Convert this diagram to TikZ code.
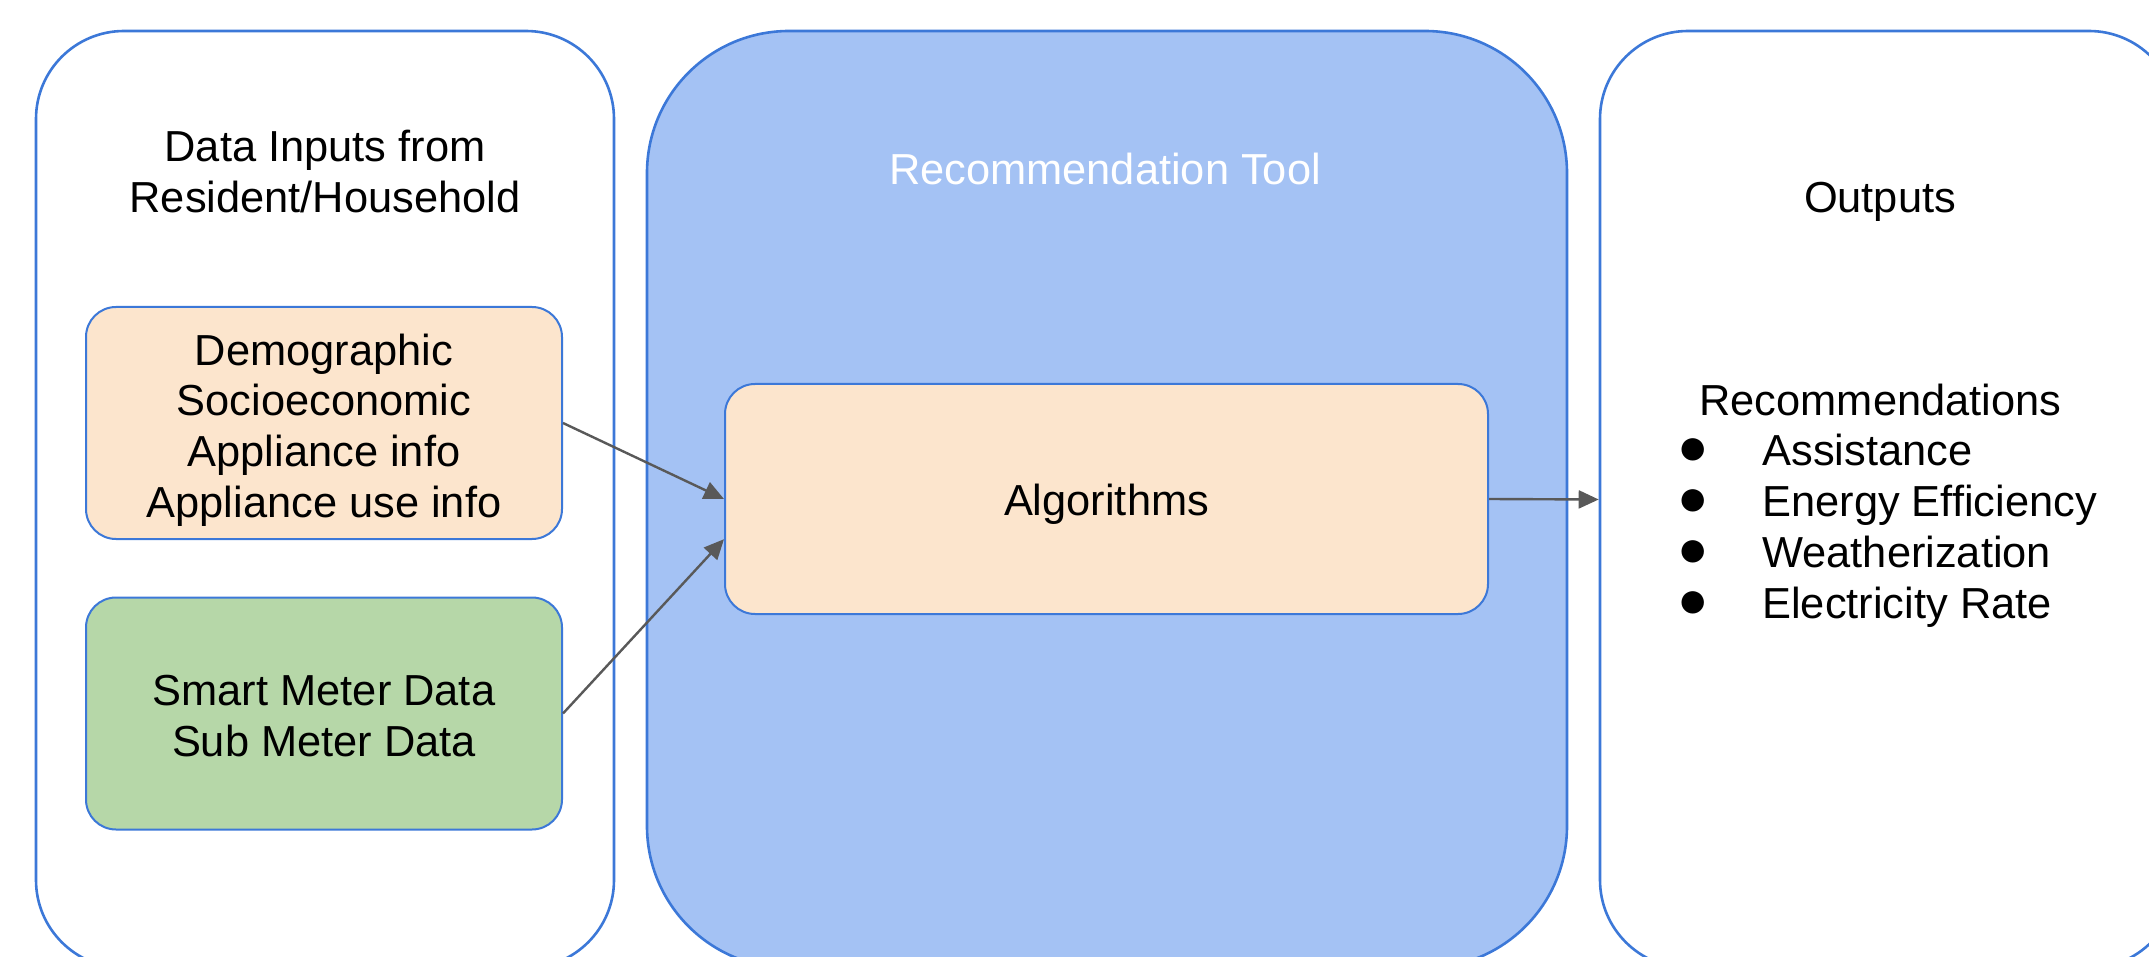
\documentclass[tikz,border=0pt]{standalone}
\usepackage{fontspec}
\setmainfont{Liberation Sans}
\usepackage{tikz}
\usetikzlibrary{arrows.meta}
\definecolor{edgeblue}{HTML}{3C78D8}
\definecolor{toolblue}{HTML}{A4C2F4}
\definecolor{peach}{HTML}{FCE5CD}
\definecolor{sage}{HTML}{B6D7A8}
\definecolor{arrowgray}{HTML}{595959}
\newcommand{\dotmark}{\makebox[40pt][l]{\hspace*{-2.5pt}\raisebox{0.5pt}{\fontsize{26pt}{0pt}\selectfont ●}}}
\tikzstyle{panel} = [draw=edgeblue, fill=white, line width=1.3pt,
    rectangle, rounded corners=44pt, inner sep=0pt]
\tikzstyle{databox} = [draw=edgeblue, line width=1pt, rectangle,
    rounded corners=15pt, inner sep=0pt,
    minimum width=238pt, minimum height=116pt]
\tikzstyle{boxtext} = [align=center, inner sep=0pt]
\tikzstyle{flow} = [draw=arrowgray, line width=1.2pt,
    -{Triangle[length=10pt,width=9pt]}]

\begin{document}
\begin{tikzpicture}[x=0.5pt, y=-0.5pt,
    font=\fontsize{21.7pt}{25.4pt}\selectfont]
    \clip (0,0) rectangle (2149,957);
    \node [panel, minimum width=289pt, minimum height=468.5pt] (inputs) at (325,499.5) {};
    \node [panel, fill=toolblue, rounded corners=71pt,
        minimum width=460pt, minimum height=468.5pt] (tool) at (1107,499.5) {};
    \node [panel, minimum width=288.5pt, minimum height=468.5pt] (outputs) at (1888.5,499.5) {};

    \node [boxtext] (inputstitle) at (325,171.5) {Data Inputs from\\Resident/Household};
    \node [boxtext, text=white] (tooltitle) at (1105,168.5) {Recommendation Tool};
    \node [boxtext] (outtitle) at (1880,201.5) {Outputs};

    \node [databox, fill=peach] (demo) at (324,423) {};
    \node [boxtext] (demotext) at ([yshift=-3.5pt]demo.center)
        {Demographic\\Socioeconomic\\Appliance info\\Appliance use info};
    \node [databox, fill=sage] (meter) at (324,713.5) {};
    \node [boxtext] (metertext) at ([yshift=-1.4pt]meter.center)
        {Smart Meter Data\\Sub Meter Data};
    \node [databox, fill=peach, minimum width=381.5pt, minimum height=115pt] (algo)
        at (1106.5,499) {};
    \node [boxtext] (algotext) at ([yshift=-2.75pt]algo.center) {Algorithms};

    \node [anchor=west, align=left, inner sep=0pt] (recs) at (1682,505.5) {%
        \hspace*{8.5pt}Recommendations\\
        \dotmark Assistance\\
        \dotmark Energy Efficiency\\
        \dotmark Weatherization\\
        \dotmark Electricity Rate};

    \draw [flow] (demo.east) -- (algo.west);
    \draw [flow] (meter.east) -- (algo.186);
    \draw [flow] (algo.east) -- (outputs.west);
\end{tikzpicture}
\end{document}
